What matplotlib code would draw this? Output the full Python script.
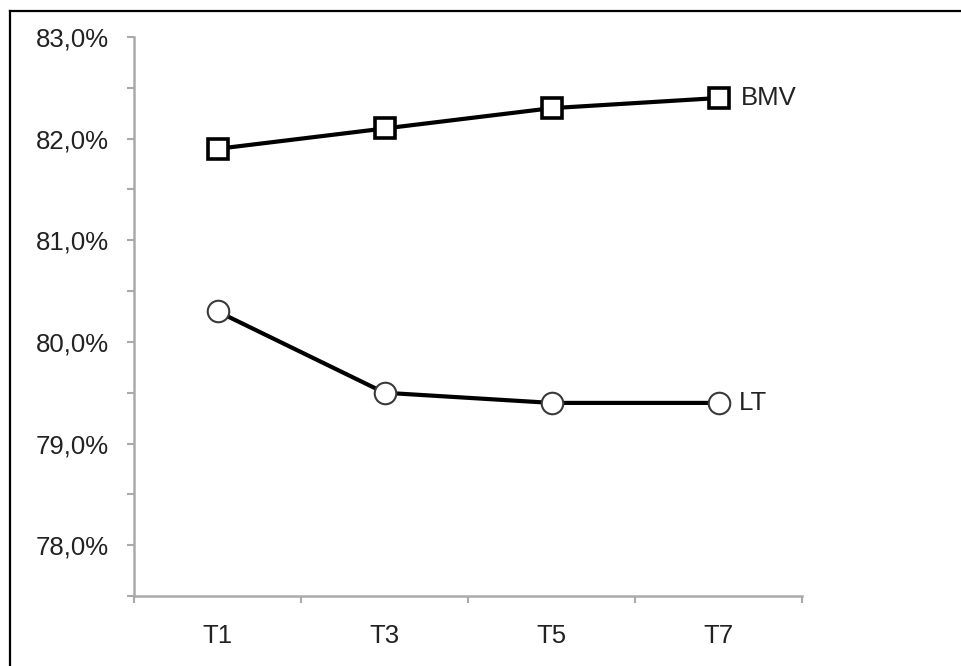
import matplotlib.pyplot as plt
import numpy as np
from matplotlib.lines import Line2D

# data
categories = ['T1', 'T3', 'T5', 'T7']
bmv_values = [81.9, 82.1, 82.3, 82.4]
lt_values = [80.3, 79.5, 79.4, 79.4]
y_ticks = [77.5, 78.0, 78.5, 79.0, 79.5, 80.0, 80.5, 81.0, 81.5, 82.0, 82.5, 83.0]
y_labels = ['', '78,0%', '', '79,0%', '', '80,0%', '', '81,0%', '', '82,0%', '', '83,0%']

plt.rcParams['font.family'] = ['Liberation Sans', 'DejaVu Sans']

fig = plt.figure(figsize=(9.62, 6.66), dpi=100)
ax = fig.add_axes([0.1393, 0.1051, 0.6944, 0.8393])

x = np.arange(len(categories))

# BMV series, square markers
ax.plot(x, bmv_values, color='black', linewidth=3,
        marker='s', markersize=15, markerfacecolor='white',
        markeredgecolor='black', markeredgewidth=2.6, zorder=3)

# LT series, circle markers
ax.plot(x, lt_values, color='black', linewidth=3,
        marker='o', markersize=15.5, markerfacecolor='white',
        markeredgecolor='#3a3a3a', markeredgewidth=1.5, zorder=3)

# series labels to the right of the last point
ax.annotate('BMV', (x[-1], bmv_values[-1]), xytext=(16, 0),
            textcoords='offset points', va='center', ha='left',
            fontsize=18.5, color='#222222')
ax.annotate('LT', (x[-1], lt_values[-1]), xytext=(15, 0),
            textcoords='offset points', va='center', ha='left',
            fontsize=18.5, color='#222222')

ax.set_xlim(-0.5, len(categories) - 0.5)
ax.set_ylim(77.5, 83.0)

ax.set_yticks(y_ticks)
ax.set_yticklabels(y_labels)

# category axis: tick marks between categories, labels at centres
ax.set_xticks(np.arange(-0.5, len(categories), 1.0))
ax.set_xticklabels([''] * (len(categories) + 1))
ax.set_xticks(x, minor=True)
ax.set_xticklabels(categories, minor=True)

spine_col = '#aaaaaa'
for side in ['top', 'right']:
    ax.spines[side].set_visible(False)
for side in ['left', 'bottom']:
    ax.spines[side].set_color(spine_col)
    ax.spines[side].set_linewidth(1.8)

ax.tick_params(axis='y', which='major', length=5, width=1.5,
               color=spine_col, pad=13, labelsize=18.5, labelcolor='#222222')
ax.tick_params(axis='x', which='major', length=5, width=1.5,
               color=spine_col)
ax.tick_params(axis='x', which='minor', length=0, pad=20,
               labelsize=18.5, labelcolor='#222222')

# frame lines of the original picture (top and left only)
fig.add_artist(Line2D([10 / 962, 1.0], [1 - 11 / 666, 1 - 11 / 666],
                      transform=fig.transFigure, color='black', linewidth=1.6))
fig.add_artist(Line2D([10 / 962, 10 / 962], [0.0, 1 - 11 / 666],
                      transform=fig.transFigure, color='black', linewidth=1.6))

fig.savefig('out.png', dpi=100)
